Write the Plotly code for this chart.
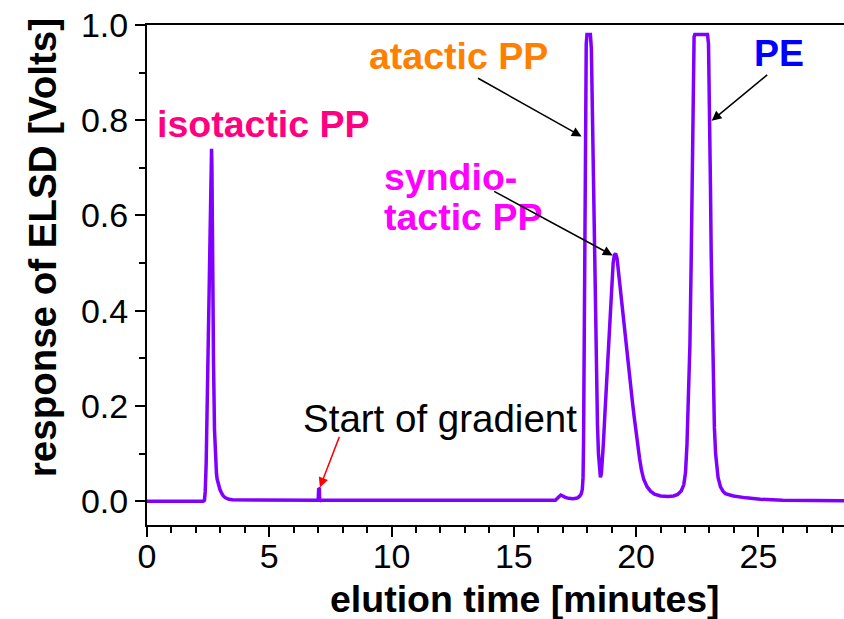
import plotly.graph_objects as go

# ---- data ----
time_min = [0.0, 2.30, 2.35, 2.38, 2.42, 2.49, 2.55, 2.60, 2.625, 2.64, 2.655, 2.68, 2.72, 2.76,
            2.80, 2.84, 2.87, 2.92, 2.98, 3.05, 3.12, 3.21, 3.35, 3.50, 5.00,
            7.00, 7.02, 7.05, 7.06, 7.10, 10.0, 15.0,
            16.70, 16.78, 16.85, 16.92, 17.00, 17.10, 17.25, 17.40, 17.55, 17.60, 17.70, 17.76,
            17.80, 17.83, 17.85, 17.87, 17.90, 17.93, 17.96, 17.99, 18.13, 18.17, 18.20, 18.23,
            18.27, 18.30, 18.34, 18.38, 18.42, 18.46, 18.50, 18.54, 18.58, 18.62, 18.66, 18.72,
            18.78, 18.85, 18.93, 19.01, 19.06, 19.11, 19.16, 19.22, 19.28, 19.33, 19.40, 19.47,
            19.54, 19.61, 19.69, 19.77, 19.85, 19.93, 20.03, 20.14, 20.22, 20.31, 20.45, 20.59,
            20.75, 21.00, 21.30, 21.53, 21.70, 21.85, 21.95, 22.02, 22.08, 22.14, 22.20, 22.25,
            22.29, 22.32, 22.34, 22.37, 22.40, 22.92, 22.96, 22.99, 23.01, 23.04, 23.07, 23.11,
            23.15, 23.20, 23.25, 23.30, 23.35, 23.45, 23.55, 23.65, 23.80, 23.98, 24.50, 25.08,
            26.00, 27.00, 28.50]
response_v = [0.0, 0.0, 0.002, 0.02, 0.08, 0.29, 0.50, 0.68, 0.735, 0.74, 0.70, 0.50, 0.29, 0.15,
              0.08, 0.058, 0.046, 0.034, 0.025, 0.017, 0.011, 0.007, 0.004, 0.003, 0.002,
              0.002, 0.027, 0.026, 0.0, 0.002, 0.002, 0.002,
              0.002, 0.006, 0.011, 0.013, 0.011, 0.008, 0.006, 0.005, 0.006, 0.007, 0.011, 0.016,
              0.025, 0.05, 0.12, 0.30, 0.60, 0.85, 0.96, 0.98, 0.98, 0.95, 0.85, 0.72,
              0.60, 0.52, 0.38, 0.24, 0.16, 0.10, 0.065, 0.05, 0.058, 0.085, 0.12, 0.18,
              0.24, 0.32, 0.40, 0.465, 0.50, 0.517, 0.52, 0.51, 0.48, 0.453, 0.42, 0.383,
              0.348, 0.313, 0.278, 0.243, 0.208, 0.173, 0.13, 0.09, 0.065, 0.046, 0.03, 0.021,
              0.015, 0.011, 0.010, 0.011, 0.014, 0.022, 0.035, 0.06, 0.12, 0.22, 0.33, 0.50,
              0.66, 0.82, 0.93, 0.975, 0.98, 0.98, 0.96, 0.88, 0.80, 0.66, 0.52, 0.37,
              0.24, 0.155, 0.10, 0.07, 0.05, 0.03, 0.021, 0.016, 0.013, 0.011, 0.007, 0.004,
              0.002, 0.001, 0.001]

x_range = [0, 28.5]
y_range = [-0.05, 1.0]

FONT = "Arial, Liberation Sans, sans-serif"

fig = go.Figure()
fig.add_trace(go.Scatter(x=time_min, y=response_v, mode="lines",
                         line=dict(color="#8000FF", width=3.5), showlegend=False,
                         hoverinfo="skip"))

labels = [
    dict(text="isotactic PP", x=4.76, y=0.792, color="#FF0080", xanchor="center"),
    dict(text="atactic PP", x=12.73, y=0.935, color="#FF8000", xanchor="center"),
    dict(text="syndio-", x=9.6, y=0.681, color="#FF00FF", xanchor="left"),
    dict(text="tactic PP", x=9.6, y=0.597, color="#FF00FF", xanchor="left"),
    dict(text="PE", x=25.86, y=0.941, color="#0000FF", xanchor="center"),
]
for lab in labels:
    fig.add_annotation(x=lab["x"], y=lab["y"], xref="x", yref="y", text="<b>%s</b>" % lab["text"],
                       showarrow=False, xanchor=lab["xanchor"], yanchor="middle",
                       font=dict(family=FONT, size=37.5, color=lab["color"]))

fig.add_annotation(x=12.0, y=0.173, xref="x", yref="y", text="Start of gradient",
                   showarrow=False, xanchor="center", yanchor="middle",
                   font=dict(family=FONT, size=38.5, color="black"))

arrows = [
    dict(x=17.77, y=0.766, ax=-105, ay=-59, color="black"),
    dict(x=19.04, y=0.516, ax=-120, ay=-65, color="black"),
    dict(x=23.09, y=0.799, ax=57, ay=-47, color="black"),
    dict(x=7.07, y=0.029, ax=20, ay=-52, color="red"),
]
for a in arrows:
    fig.add_annotation(x=a["x"], y=a["y"], xref="x", yref="y", ax=a["ax"], ay=a["ay"],
                       text="", showarrow=True, arrowhead=2, arrowsize=1.3, arrowwidth=1.5,
                       arrowcolor=a["color"])

# axis titles
fig.add_annotation(x=0.543, y=-0.148, xref="paper", yref="paper",
                   text="<b>elution time [minutes]</b>", showarrow=False,
                   xanchor="center", yanchor="middle",
                   font=dict(family=FONT, size=37.5, color="black"))
fig.add_annotation(x=-0.149, y=0.554, xref="paper", yref="paper",
                   text="<b>response of ELSD [Volts]</b>", showarrow=False, textangle=-90,
                   xanchor="center", yanchor="middle",
                   font=dict(family=FONT, size=38.5, color="black"))

axis_common = dict(showgrid=False, zeroline=False, showline=True, linecolor="black",
                   linewidth=2, ticks="outside", tickcolor="black", tickwidth=1.5,
                   ticklen=10, tickfont=dict(family=FONT, size=34, color="black"))

fig.update_xaxes(range=x_range, dtick=5, tick0=0, mirror=True, ticklabelstandoff=-10,
                 minor=dict(dtick=1, ticks="outside", ticklen=6, tickcolor="black", tickwidth=1.5),
                 **axis_common)
fig.update_yaxes(range=y_range, dtick=0.2, tick0=0, tickformat=".1f", mirror=False,
                 minor=dict(dtick=0.1, ticks="outside", ticklen=6, tickcolor="black", tickwidth=1.5),
                 **axis_common)

fig.update_layout(width=844, height=619, margin=dict(l=147, r=0, t=25, b=94),
                  plot_bgcolor="white", paper_bgcolor="white")

fig.write_html("out.html")
